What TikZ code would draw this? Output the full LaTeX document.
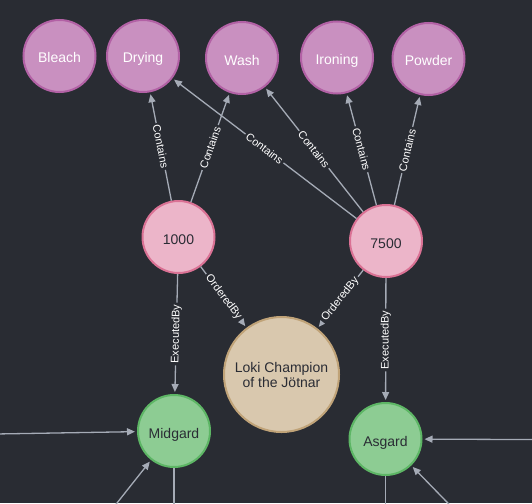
\documentclass[tikz,border=0pt]{standalone}
\usepackage{fontspec}
\setmainfont{Liberation Sans}
\usetikzlibrary{arrows.meta}

\definecolor{canvas}{HTML}{292C33}
\definecolor{edgegray}{HTML}{A5ABB6}
\definecolor{purplefill}{HTML}{C990C0}
\definecolor{purpleline}{HTML}{B261A5}
\definecolor{pinkfill}{HTML}{ECB5C9}
\definecolor{pinkline}{HTML}{DA7194}
\definecolor{tanfill}{HTML}{D9C8AE}
\definecolor{tanline}{HTML}{C0A378}
\definecolor{greenfill}{HTML}{8DCC93}
\definecolor{greenline}{HTML}{5DB665}
\definecolor{darktext}{HTML}{2A2C34}

\tikzset{
  x=1pt, y=-1pt,
  entity/.style={circle, line width=2pt, minimum size=72pt, inner sep=0pt,
    align=center, font=\fontsize{14}{15}\selectfont},
  oneline/.style={entity, text height=14pt, text depth=0pt},
  feature/.style={oneline, fill=purplefill, draw=purpleline, text=white},
  order/.style={oneline, fill=pinkfill, draw=pinkline, text=darktext},
  person/.style={entity, fill=tanfill, draw=tanline, text=darktext, minimum size=115pt},
  realm/.style={oneline, fill=greenfill, draw=greenline, text=darktext},
  rel/.style={draw=edgegray, line width=1.3pt, shorten >=2pt,
    -{Triangle[length=8pt,width=7pt]}},
  plain/.style={draw=edgegray, line width=1.3pt},
  rellabel/.style={sloped, midway, fill=canvas, inner sep=2pt, text=white,
    font=\fontsize{11}{12}\selectfont}
}

\begin{document}
\begin{tikzpicture}
  \path[fill=canvas, use as bounding box] (0,0) rectangle (532,503);
  \clip (0,0) rectangle (532,503);

  % laundry features
  \node[feature] (bleach)  at (59.5,56)  {Bleach};
  \node[feature] (drying)  at (143,56)   {Drying};
  \node[feature] (wash)    at (242,58)   {Wash};
  \node[feature] (ironing) at (337,57.5) {Ironing};
  \node[feature] (powder)  at (428.5,59) {Powder};

  % orders
  \node[order] (o1000) at (178.5,237) {1000};
  \node[order] (o7500) at (386,241)   {7500};

  % customer
  \node[person] (loki) at (281.5,374.5) {Loki Champion\\of the Jötnar};

  % realms
  \node[realm] (midgard) at (174,431)   {Midgard};
  \node[realm] (asgard)  at (385.5,439) {Asgard};

  % relations leaving the visible area
  \coordinate (westin)  at (-40,434.6);
  \coordinate (swin)    at (88.5,539);
  \coordinate (midout)  at (174,545);
  \coordinate (eastin)  at (572,439.7);
  \coordinate (sein)    at (479,535);
  \coordinate (asout)   at (385.5,545);

  % Contains
  \draw[rel] (o1000) -- (drying)  node[rellabel] {Contains};
  \draw[rel] (o1000) -- (wash)    node[rellabel] {Contains};
  \draw[rel] (o7500) -- (drying)  node[rellabel] {Contains};
  \draw[rel] (o7500) -- (wash)    node[rellabel] {Contains};
  \draw[rel] (o7500) -- (ironing) node[rellabel] {Contains};
  \draw[rel] (o7500) -- (powder)  node[rellabel] {Contains};

  % OrderedBy / ExecutedBy
  \draw[rel] (o1000) -- (loki)    node[rellabel] {OrderedBy};
  \draw[rel] (o7500) -- (loki)    node[rellabel] {OrderedBy};
  \draw[rel] (o1000) -- (midgard) node[rellabel] {ExecutedBy};
  \draw[rel] (o7500) -- (asgard)  node[rellabel] {ExecutedBy};

  % edges to and from the surroundings
  \draw[rel] (westin) -- (midgard);
  \draw[rel] (swin) -- (midgard);
  \draw[plain] (midgard) -- (midout);
  \draw[rel] (eastin) -- (asgard);
  \draw[rel] (sein) -- (asgard);
  \draw[plain] (asgard) -- (asout);
\end{tikzpicture}
\end{document}
